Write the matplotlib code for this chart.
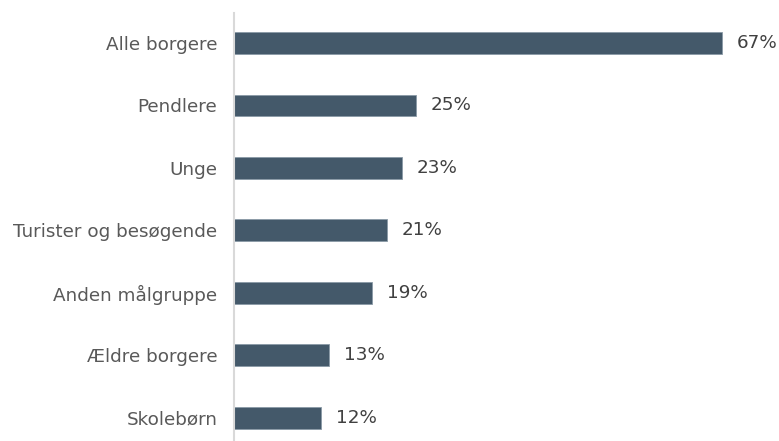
from matplotlib import pyplot as plt

categories = ["Alle borgere", "Pendlere", "Unge", "Turister og besøgende",
              "Anden målgruppe", "Ældre borgere", "Skolebørn"]
values = [67, 25, 23, 21, 19, 13, 12]

BAR_COLOR = '#44596a'

fig = plt.figure(figsize=(7.79, 4.41), dpi=100)
ax = fig.add_axes([234 / 779, 0.0, 546.3 / 779, 1 - 13 / 441])

positions = list(range(len(categories)))
ax.barh(positions, values, height=0.35, color=BAR_COLOR, edgecolor='#8a9aa6', linewidth=0.6)

for pos, val in zip(positions, values):
    ax.annotate("{}%".format(val), xy=(val, pos), xytext=(15, 0), textcoords='offset pixels',
                va='center', ha='left', fontsize=13.2, color='#404040', annotation_clip=False)

ax.set_xlim(0, 75)
ax.set_ylim(6.372, -0.48)
ax.set_yticks(positions)
ax.set_yticklabels(categories, fontsize=13.2, color='#595959')
ax.tick_params(axis='y', length=0, pad=12)
ax.set_xticks([])

for side in ['top', 'right', 'bottom']:
    ax.spines[side].set_visible(False)
ax.spines['left'].set_color('#d9d9d9')
ax.spines['left'].set_linewidth(1.5)

plt.savefig("out.png", dpi=100)
